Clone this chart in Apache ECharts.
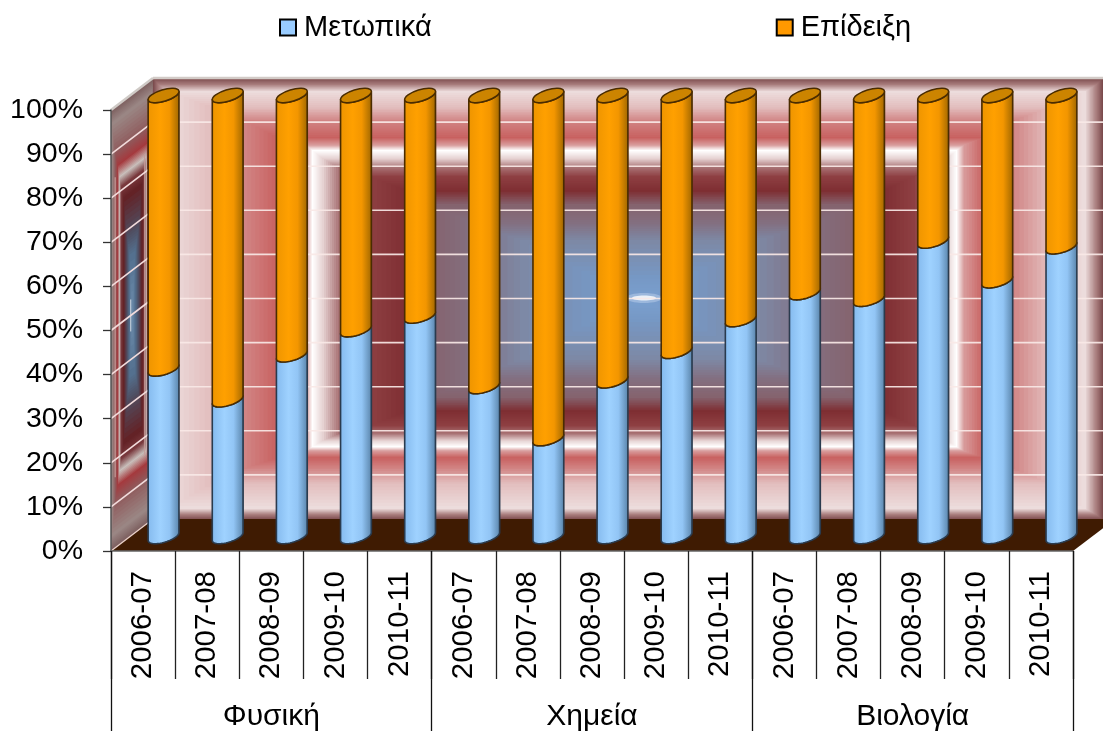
<!DOCTYPE html>
<html><head><meta charset="utf-8">
<style>html,body{margin:0;padding:0;background:#fff}#c{width:1103px;height:732px}</style>
<script src="https://cdn.jsdelivr.net/npm/echarts@6/dist/echarts.min.js"></script>
</head><body><div id="c"></div>
<script>
const years = ['2006-07','2007-08','2008-09','2009-10','2010-11','2006-07','2007-08','2008-09','2009-10','2010-11','2006-07','2007-08','2008-09','2009-10','2010-11'];
const groups = ['Φυσική','Χημεία','Βιολογία'];
const metopika = [38,31,41.2,46.9,50,34,22.2,35.3,42,49.2,55.3,53.8,67,58,65.7];
const epideixi = [62,69,58.8,53.1,50,66,77.8,64.7,58,50.8,44.7,46.2,33,42,34.3];
const yTicks = [0,10,20,30,40,50,60,70,80,90,100];

const FONT = '"Liberation Sans", Arial, sans-serif';
const DEPTH = [42,-32], BAR_SHIFT = [20.5,-14.5];
const A = 16, B = 5.8, TH = -16.7*Math.PI/180;

// Concentric bands of the back wall picture: [left, top, right, bottom, colour]
const WALL_BANDS = [
 [153,78,1103,520,'#7a4a4c'],[158,84,1097,515,'#a87c7c'],[168,91,1086,509,'#ecdcdc'],
 [210,107,1050,484,'#e2bcbc'],[243,120,1015,469,'#d18484'],[276,137,985,458,'#c8605f'],
 [306,145,964,451,'#d9a0a0'],[312,150,957,447,'#ffffff'],[322,158,948,441,'#e6d2d2'],
 [338,167,936,434,'#a87274'],[368,176,915,426,'#8e3f42'],[405,190,885,412,'#7e2e32'],
 [430,204,855,398,'#85636e'],[470,222,815,380,'#836f80'],[520,240,760,360,'#7d89a6'],
 [590,275,690,322,'#7698c4'],[640,300,640,300,'#7aa0d0']
];
// Bands of the squeezed side wall picture, as fractions: [u0, v0, u1, v1, colour]
const SIDE_BANDS = [
 [0,0,1,1,'#7d5f5f'],[.02,.03,.98,.97,'#9a8684'],[.1,.10,.92,.9,'#8f5a5c'],
 [.16,.135,.86,.865,'#a53a3e'],[.2,.165,.84,.835,'#c9c0bc'],[.24,.19,.8,.81,'#7a3a3e'],
 [.3,.22,.74,.78,'#632226'],[.38,.31,.66,.69,'#4f4f62'],[.44,.36,.58,.64,'#54708f'],
 [.5,.5,.5,.5,'#6f8fae']
];
const hex = c => [1,3,5].map(i => parseInt(c.substr(i,2),16));
const mix = (a,b,t) => { const x=hex(a),y=hex(b); return 'rgb('+x.map((v,i)=>Math.round(v+(y[i]-v)*t)).join(',')+')'; };

function wallItem(params, api){
  const band = api.size([1,0])[0];
  const p0 = api.coord([0,0]), p100 = api.coord([0,100]);
  const L = p0[0]-band/2, R = L+band*years.length, Bt = p0[1], T = p100[1];
  const dx = DEPTH[0], dy = DEPTH[1];
  const back = (x,y)=>[x,y];
  const side = (u,v)=>[L+dx*u, T+dy*u+(Bt-T)*v];
  const children=[];
  const paint = (bands,map)=>{
    for(let i=0;i<bands.length-1;i++){
      const a=bands[i],b=bands[i+1], steps=8;
      for(let s=0;s<steps;s++){
        const t=s/steps, q=k=>a[k]+(b[k]-a[k])*t;
        children.push({type:'polygon',silent:true,shape:{points:[map(q(0),q(1)),map(q(2),q(1)),map(q(2),q(3)),map(q(0),q(3))]},style:{fill:mix(a[4],b[4],t)}});
      }
    }
  };
  paint(WALL_BANDS,back);
  // sparkle at the wall's centre
  children.push({type:'ellipse',silent:true,shape:{cx:644,cy:298,rx:18,ry:5},style:{fill:'rgba(235,242,255,.3)'}});
  children.push({type:'ellipse',silent:true,shape:{cx:644,cy:298,rx:12,ry:2.5},style:{fill:'rgba(255,255,255,.8)'}});
  paint(SIDE_BANDS,side);
  // faint vertical strips and sparkle of the side wall
  [.1,.8].forEach(u=>{
    const p=side(u,.16), q=side(u,.84);
    children.push({type:'line',silent:true,shape:{x1:p[0],y1:p[1],x2:q[0],y2:q[1]},style:{stroke:'#c49a98',lineWidth:1.4,opacity:.85}});
  });
  const c=side(.47,.5);
  children.push({type:'line',silent:true,shape:{x1:c[0],y1:c[1]-16,x2:c[0],y2:c[1]+16},style:{stroke:'rgba(255,255,255,.7)',lineWidth:1}});
  // grid lines on both walls
  yTicks.forEach(v=>{
    const y=api.coord([0,v])[1];
    if(v===0||v===100) return;
    children.push({type:'line',silent:true,shape:{x1:L+dx,y1:y+dy,x2:R+dx,y2:y+dy},style:{stroke:'#f8e8e6',lineWidth:1.6,opacity:.92}});
    children.push({type:'line',silent:true,shape:{x1:L,y1:y,x2:L+dx,y2:y+dy},style:{stroke:'#f3dcdc',lineWidth:1.6}});
  });
  // floor
  children.push({type:'polygon',silent:true,shape:{points:[[L,Bt],[L+dx,Bt+dy],[R+dx,Bt+dy],[R,Bt]]},style:{fill:'#3f1b02'}});
  children.push({type:'line',silent:true,shape:{x1:L,y1:Bt,x2:L+dx,y2:Bt+dy},style:{stroke:'#e8cfc8',lineWidth:1.4}});
  // bevel edges
  children.push({type:'line',silent:true,shape:{x1:L,y1:T,x2:L+dx,y2:T+dy},style:{stroke:'#cfcac6',lineWidth:2.4}});
  children.push({type:'line',silent:true,shape:{x1:L+dx,y1:T+dy,x2:R+dx,y2:T+dy},style:{stroke:'#d2cbc7',lineWidth:2.4}});
  return {type:'group',children};
}

function arc(cx,cy){ // lower half of the tilted ellipse, right extreme to left extreme
  const t0=Math.atan2(-B*Math.sin(TH),A*Math.cos(TH)), pts=[];
  for(let i=0;i<=28;i++){
    const t=t0+Math.PI*i/28;
    pts.push([cx+A*Math.cos(t)*Math.cos(TH)-B*Math.sin(t)*Math.sin(TH), cy+A*Math.cos(t)*Math.sin(TH)+B*Math.sin(t)*Math.cos(TH)]);
  }
  return pts;
}
function hgrad(stops){return {type:'linear',x:0,y:0,x2:1,y2:0,colorStops:stops.map(s=>({offset:s[0],color:s[1]}))};}
const BLUE_G = hgrad([[0,'#5f90c2'],[.06,'#88bdf0'],[.4,'#9fd2ff'],[.68,'#92c5f5'],[.93,'#6490b8'],[1,'#3f5f80']]);
const ORANGE_G = hgrad([[0,'#c67e00'],[.06,'#f09600'],[.4,'#ffa000'],[.68,'#f39600'],[.93,'#b07000'],[1,'#704600']]);

function cylinder(grad,edge,cap){
  return function(params,api){
    const i=api.value(0), a=api.coord([i,api.value(1)]), b=api.coord([i,api.value(2)]);
    const cx=a[0]+BAR_SHIFT[0], y0=a[1]+BAR_SHIFT[1], y1=b[1]+BAR_SHIFT[1];
    const low=arc(cx,y0), up=arc(cx,y1).reverse();
    const children=[{type:'polygon',shape:{points:low.concat(up)},style:{fill:grad,stroke:edge,lineWidth:1.6,lineJoin:'round'}}];
    if(cap) children.push({type:'ellipse',shape:{cx:cx,cy:y1,rx:A,ry:B},rotation:-TH,originX:cx,originY:y1,style:{fill:cap,stroke:edge,lineWidth:1.5}});
    return {type:'group',children};
  };
}
const blueData=metopika.map((v,i)=>[i,0,v]);
const orangeData=epideixi.map((v,i)=>[i,metopika[i],metopika[i]+v]);

const chart=echarts.init(document.getElementById('c'),null,{renderer:'canvas'});
chart.setOption({
  animation:false,
  backgroundColor:'#fff',
  textStyle:{fontFamily:FONT},
  legend:{
    left:274,top:8,itemGap:344,itemWidth:16,itemHeight:16,selectedMode:false,
    textStyle:{fontFamily:FONT,fontSize:29,color:'#000',padding:[0,0,0,3]},
    data:[
      {name:'Μετωπικά',icon:'rect',itemStyle:{color:'#99ccff',borderColor:'#000',borderWidth:2}},
      {name:'Επίδειξη',icon:'rect',itemStyle:{color:'#ff9900',borderColor:'#000',borderWidth:2}}
    ]
  },
  grid:{left:111,right:30,top:110,height:442,containLabel:false},
  xAxis:[
    {type:'category',data:years,position:'bottom',z:5,
     axisLine:{show:true,lineStyle:{color:'#666',width:1.5}},
     axisTick:{show:true,length:128,alignWithLabel:false,lineStyle:{color:'#222',width:1.3}},
     axisLabel:{interval:0,rotate:90,margin:20,fontSize:29.5,color:'#000',fontFamily:FONT,hideOverlap:false},
     splitLine:{show:false}},
    {type:'category',data:groups,position:'bottom',z:5,
     axisLine:{show:false},
     axisTick:{show:true,length:180,lineStyle:{color:'#111',width:1.3}},
     axisLabel:{interval:0,margin:151,fontSize:30,color:'#000',fontFamily:FONT},
     splitLine:{show:false}}
  ],
  yAxis:{type:'value',min:0,max:100,interval:10,z:5,
     axisLine:{show:true,lineStyle:{color:'#555',width:1.5}},
     axisTick:{show:true,length:8,lineStyle:{color:'#333',width:1.3}},
     axisLabel:{formatter:'{value}%',margin:28,fontSize:28.5,color:'#000',fontFamily:FONT},
     splitLine:{show:false}},
  series:[
    {type:'custom',name:'wall',silent:true,z:1,clip:false,data:[[0,0]],encode:{x:0,y:1},renderItem:wallItem},
    {type:'custom',name:'Μετωπικά',z:3,clip:false,itemStyle:{color:'#99ccff'},data:blueData,encode:{x:0,y:[1,2]},renderItem:cylinder(BLUE_G,'#2a3b4e',null)},
    {type:'custom',name:'Επίδειξη',z:4,clip:false,itemStyle:{color:'#ff9900'},data:orangeData,encode:{x:0,y:[1,2]},renderItem:cylinder(ORANGE_G,'#4a2c00','#cc8400')}
  ]
});
</script></body></html>
